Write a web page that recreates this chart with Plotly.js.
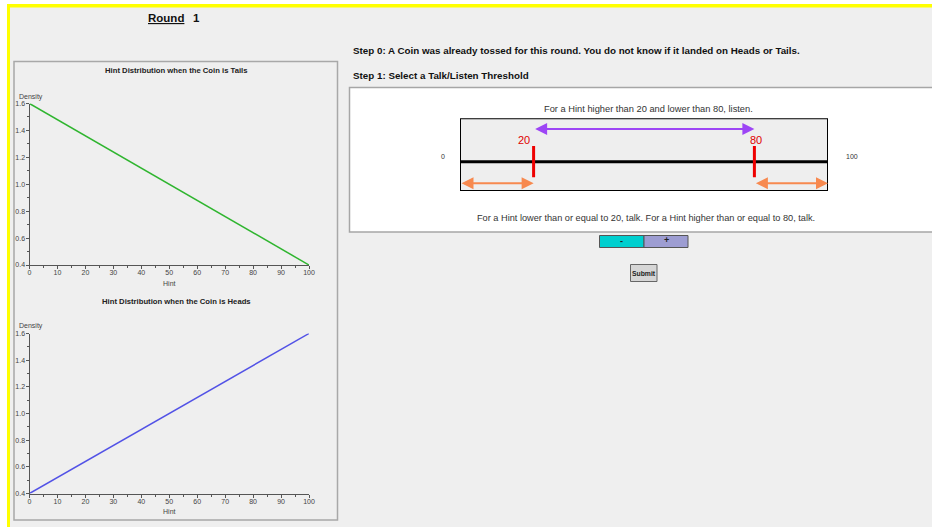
<!DOCTYPE html>
<html><head><meta charset="utf-8">
<script src="https://cdn.plot.ly/plotly-3.0.1.min.js"></script>
<style>html,body{margin:0;padding:0;background:#fff;overflow:hidden}#chart{width:932px;height:527px}</style>
</head><body><div id="chart"></div>
<script>
// ---- data ----
const hint = [0, 100];
const densityTails = [1.6, 0.4];
const densityHeads = [0.4, 1.6];
const hintMin = 0;
const hintMax = 100;
const thresholdLow = 20;
const thresholdHigh = 80;
const roundNumber = 1;
const chartTitles = ['Hint Distribution when the Coin is Tails', 'Hint Distribution when the Coin is Heads'];
const step0Text = 'Step 0: A Coin was already tossed for this round. You do not know if it landed on Heads or Tails.';
const step1Text = 'Step 1: Select a Talk/Listen Threshold';
const listenText = 'For a Hint higher than ' + thresholdLow + ' and lower than ' + thresholdHigh + ', listen.';
const talkText = 'For a Hint lower than or equal to ' + thresholdLow + ', talk. For a Hint higher than or equal to ' + thresholdHigh + ', talk.';
const buttonLabels = ['-', '+', 'Submit'];

// ---- layout helpers ----
const W = 932, H = 527;
const px = x => x / W;
const py = y => 1 - y / H;
const FONT = 'Liberation Sans, Arial, sans-serif';

const traces = [
  {x: hint, y: densityTails, xaxis: 'x', yaxis: 'y', mode: 'lines', line: {color: '#2fb52f', width: 1.5}, hoverinfo: 'skip'},
  {x: hint, y: densityHeads, xaxis: 'x2', yaxis: 'y2', mode: 'lines', line: {color: '#5252e6', width: 1.5}, hoverinfo: 'skip'},
  // threshold scale line
  {x: [hintMin, hintMax], y: [0.403, 0.403], xaxis: 'x3', yaxis: 'y3', mode: 'lines', line: {color: '#000', width: 3}, hoverinfo: 'skip'},
  {x: [thresholdLow, thresholdLow], y: [0.188, 0.619], xaxis: 'x3', yaxis: 'y3', mode: 'lines', line: {color: '#ee0000', width: 3}, hoverinfo: 'skip'},
  {x: [thresholdHigh, thresholdHigh], y: [0.188, 0.619], xaxis: 'x3', yaxis: 'y3', mode: 'lines', line: {color: '#ee0000', width: 3}, hoverinfo: 'skip'}
];

function chartX(domain, anchor) {
  return {
    domain: domain, anchor: anchor, range: [hintMin, hintMax], fixedrange: true,
    showline: true, linecolor: '#555', linewidth: 1, showgrid: false, zeroline: false,
    ticks: 'outside', ticklen: 3, tickcolor: '#555', dtick: 10, tick0: 0, ticklabelstandoff: -2,
    tickfont: {size: 7, color: '#444', family: FONT},
    minor: {ticks: 'outside', dtick: 5, ticklen: 2, tickcolor: '#555'},
    title: {text: 'Hint', font: {size: 7, color: '#444', family: FONT}, standoff: 5}
  };
}
function chartY(domain, anchor) {
  return {
    domain: domain, anchor: anchor, range: [0.4, 1.6], fixedrange: true,
    showline: true, linecolor: '#555', linewidth: 1, showgrid: false, zeroline: false,
    ticks: 'outside', ticklen: 3, tickcolor: '#555', dtick: 0.2, tick0: 0.4, tickformat: '.1f', ticklabelstandoff: -1,
    tickfont: {size: 7, color: '#444', family: FONT},
    minor: {ticks: 'outside', dtick: 0.1, ticklen: 2, tickcolor: '#555'}
  };
}

const shapes = [
  // white threshold panel
  {type: 'rect', xref: 'paper', yref: 'paper', x0: px(349.5), x1: px(940), y0: py(232), y1: py(87.5), fillcolor: '#ffffff', line: {color: '#a6a6a6', width: 1.5}, layer: 'below'},
  // left panel border
  {type: 'rect', xref: 'paper', yref: 'paper', x0: px(14), x1: px(337.5), y0: py(520), y1: py(61.5), fillcolor: 'rgba(0,0,0,0)', line: {color: '#a8a8a8', width: 1.5}, layer: 'below'},
  // inner threshold box
  {type: 'rect', xref: 'x3', yref: 'y3', x0: hintMin, x1: hintMax, y0: 0, y1: 1, fillcolor: '#eeeeee', line: {color: '#000', width: 2}, layer: 'below'},
  // yellow borders
  {type: 'rect', xref: 'paper', yref: 'paper', x0: px(8), x1: px(940), y0: py(7.5), y1: py(4), fillcolor: '#ffff00', line: {width: 0}},
  {type: 'rect', xref: 'paper', yref: 'paper', x0: px(7), x1: px(10), y0: py(540), y1: py(4), fillcolor: '#ffff00', line: {width: 0}},
  {type: 'rect', xref: 'paper', yref: 'paper', x0: 0, x1: px(7), y0: py(540), y1: 1, fillcolor: '#ffffff', line: {width: 0}},
  {type: 'rect', xref: 'paper', yref: 'paper', x0: 0, x1: 1, y0: py(4), y1: 1, fillcolor: '#ffffff', line: {width: 0}},
  // buttons
  {type: 'rect', xref: 'paper', yref: 'paper', x0: px(599.5), x1: px(644), y0: py(247.5), y1: py(235.5), fillcolor: '#00cfcf', line: {color: '#555', width: 1}},
  {type: 'rect', xref: 'paper', yref: 'paper', x0: px(644), x1: px(688), y0: py(247.5), y1: py(235.5), fillcolor: '#9d9dd2', line: {color: '#555', width: 1}},
  {type: 'rect', xref: 'paper', yref: 'paper', x0: px(630.5), x1: px(657), y0: py(281.5), y1: py(264.5), fillcolor: '#d6d6d6', line: {color: '#666', width: 1}}
];

function txt(text, x, y, size, opts) {
  return Object.assign({
    text: text, xref: 'paper', yref: 'paper', x: px(x), y: py(y), showarrow: false,
    xanchor: 'left', yanchor: 'middle', font: {size: size, color: '#222', family: FONT}
  }, opts || {});
}

const annotations = [
  txt('<b><u>Round</u></b>', 145.5, 18, 11.5, {font: {size: 11.5, color: '#111', family: FONT}}),
  txt('<b>' + roundNumber + '</b>', 190.5, 18, 11.5, {font: {size: 11.5, color: '#111', family: FONT}}),
  txt('<b>' + chartTitles[0] + '</b>', 176, 70.5, 7.7, {xanchor: 'center'}),
  txt('<b>' + chartTitles[1] + '</b>', 176, 301, 7.7, {xanchor: 'center'}),
  txt('Density', 16.5, 96.5, 7, {font: {size: 7, color: '#444', family: FONT}}),
  txt('Density', 16.5, 326, 7, {font: {size: 7, color: '#444', family: FONT}}),
  txt('<b>' + step0Text + '</b>', 350.5, 50.5, 9.8, {font: {size: 9.8, color: '#111', family: FONT}}),
  txt('<b>' + step1Text + '</b>', 350.5, 75, 9.8, {font: {size: 9.8, color: '#111', family: FONT}}),
  txt(listenText, 648, 109, 9.3, {xanchor: 'center', font: {size: 9.3, color: '#333', family: FONT}}),
  txt(talkText, 645.5, 217.5, 9.2, {xanchor: 'center', font: {size: 9.2, color: '#333', family: FONT}}),
  txt('<b>' + buttonLabels[0] + '</b>', 621.5, 241, 9, {xanchor: 'center'}),
  txt('<b>' + buttonLabels[1] + '</b>', 666, 240.5, 9, {xanchor: 'center'}),
  txt('<b>' + buttonLabels[2] + '</b>', 643.7, 273, 6.8, {xanchor: 'center', font: {size: 6.8, color: '#222', family: FONT}}),
  // scale end labels
  {text: String(hintMin), xref: 'x3', yref: 'y3', x: hintMin, y: 0.47, xshift: -17, showarrow: false, font: {size: 7, color: '#333', family: FONT}},
  {text: String(hintMax), xref: 'x3', yref: 'y3', x: hintMax, y: 0.47, xshift: 24, showarrow: false, font: {size: 7, color: '#333', family: FONT}},
  // threshold labels
  {text: String(thresholdLow), xref: 'x3', yref: 'y3', x: thresholdLow, y: 0.705, xshift: -10, showarrow: false, font: {size: 11, color: '#e00000', family: FONT}},
  {text: String(thresholdHigh), xref: 'x3', yref: 'y3', x: thresholdHigh, y: 0.705, xshift: 2, showarrow: false, font: {size: 11, color: '#e00000', family: FONT}},
  // arrows
  {text: '', xref: 'x3', yref: 'y3', axref: 'x3', ayref: 'y3', x: thresholdHigh, y: 0.853, ax: thresholdLow, ay: 0.853,
   showarrow: true, arrowhead: 2, startarrowhead: 2, arrowside: 'end+start', arrowwidth: 2, arrowsize: 1.2, startarrowsize: 1.2, arrowcolor: '#9d45f5'},
  {text: '', xref: 'x3', yref: 'y3', axref: 'x3', ayref: 'y3', x: thresholdLow, y: 0.106, ax: hintMin, ay: 0.106,
   showarrow: true, arrowhead: 2, startarrowhead: 2, arrowside: 'end+start', arrowwidth: 2, arrowsize: 1.2, startarrowsize: 1.2, arrowcolor: '#f7894f'},
  {text: '', xref: 'x3', yref: 'y3', axref: 'x3', ayref: 'y3', x: hintMax, y: 0.106, ax: thresholdHigh, ay: 0.106,
   showarrow: true, arrowhead: 2, startarrowhead: 2, arrowside: 'end+start', arrowwidth: 2, arrowsize: 1.2, startarrowsize: 1.2, arrowcolor: '#f7894f'}
];

const layout = {
  width: W, height: H, margin: {l: 0, r: 0, t: 0, b: 0},
  paper_bgcolor: '#efefef', plot_bgcolor: 'rgba(0,0,0,0)', showlegend: false,
  font: {family: FONT, color: '#333'},
  xaxis: chartX([px(29.5), px(309)], 'y'),
  yaxis: chartY([py(265), py(103.5)], 'x'),
  xaxis2: chartX([px(29.5), px(309)], 'y2'),
  yaxis2: chartY([py(493.5), py(333.5)], 'x2'),
  xaxis3: {domain: [px(460), px(828)], anchor: 'y3', range: [hintMin, hintMax], visible: false, fixedrange: true},
  yaxis3: {domain: [py(191), py(118.3)], anchor: 'x3', range: [0, 1], visible: false, fixedrange: true},
  shapes: shapes,
  annotations: annotations
};

Plotly.newPlot('chart', traces, layout, {displayModeBar: false, staticPlot: true});
</script>
</body></html>
